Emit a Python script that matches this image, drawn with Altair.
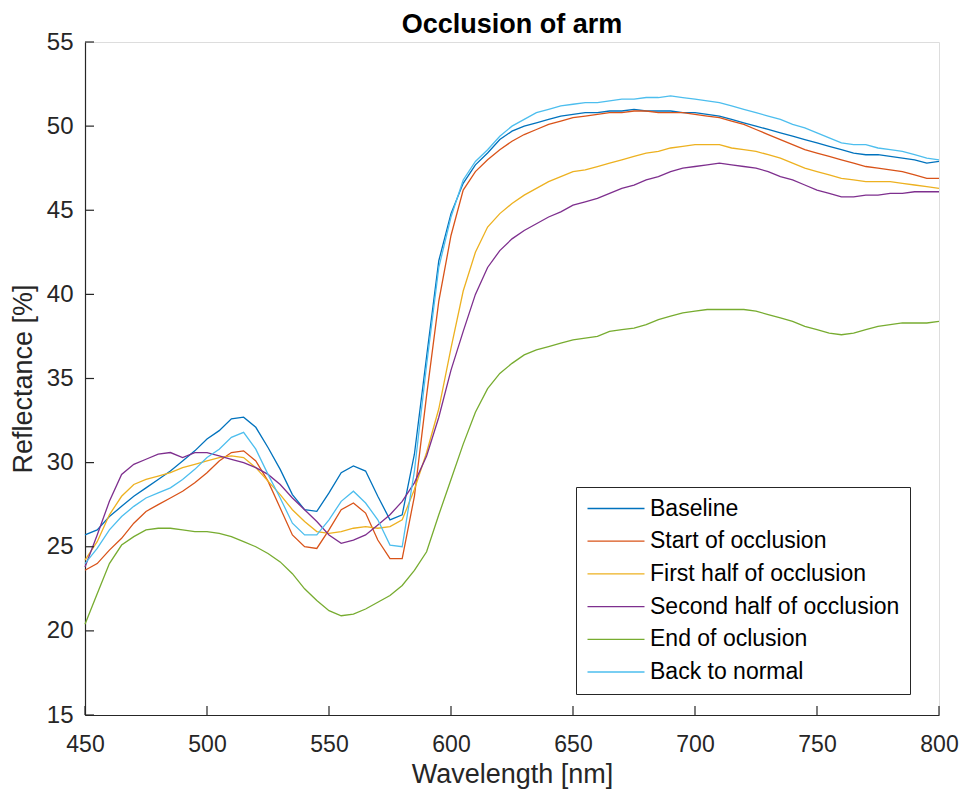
import altair as alt
import pandas as pd

wavelength = list(range(450, 801, 5))

baseline = [25.7, 26.0, 26.8, 27.4, 28.0, 28.5, 29.0, 29.5, 30.1, 30.7,
            31.4, 31.9, 32.6, 32.7, 32.1, 30.9, 29.6, 28.1, 27.2, 27.1,
            28.2, 29.4, 29.8, 29.5, 28.0, 26.6, 26.9, 30.5, 36.3, 42.0,
            44.8, 46.6, 47.7, 48.4, 49.2, 49.7, 50.0, 50.2, 50.4, 50.6,
            50.7, 50.8, 50.8, 50.9, 50.9, 51.0, 50.9, 50.9, 50.9, 50.8,
            50.8, 50.7, 50.6, 50.4, 50.2, 50.0, 49.8, 49.6, 49.4, 49.2,
            49.0, 48.8, 48.6, 48.4, 48.3, 48.3, 48.2, 48.1, 48.0, 47.8, 47.9]

start_occ = [23.6, 24.0, 24.8, 25.5, 26.4, 27.1, 27.5, 27.9, 28.3, 28.8,
             29.4, 30.1, 30.6, 30.7, 30.1, 28.9, 27.3, 25.7, 25.0, 24.9,
             26.0, 27.2, 27.6, 27.0, 25.4, 24.3, 24.3, 28.0, 34.0, 39.6,
             43.5, 46.2, 47.3, 48.0, 48.6, 49.1, 49.5, 49.8, 50.1, 50.3,
             50.5, 50.6, 50.7, 50.8, 50.8, 50.9, 50.9, 50.8, 50.8, 50.8,
             50.7, 50.6, 50.5, 50.3, 50.1, 49.8, 49.5, 49.2, 48.9, 48.6,
             48.4, 48.2, 48.0, 47.8, 47.6, 47.5, 47.4, 47.3, 47.1, 46.9, 46.9]

first_half = [24.2, 25.3, 26.9, 28.0, 28.7, 29.0, 29.2, 29.4, 29.7, 29.9,
              30.1, 30.3, 30.4, 30.3, 29.7, 28.9, 28.1, 27.2, 26.5, 25.9,
              25.8, 25.9, 26.1, 26.2, 26.1, 26.2, 26.6, 28.4, 30.6, 33.2,
              36.8, 40.2, 42.5, 44.0, 44.8, 45.4, 45.9, 46.3, 46.7, 47.0,
              47.3, 47.4, 47.6, 47.8, 48.0, 48.2, 48.4, 48.5, 48.7, 48.8,
              48.9, 48.9, 48.9, 48.7, 48.6, 48.5, 48.3, 48.1, 47.8, 47.5,
              47.3, 47.1, 46.9, 46.8, 46.7, 46.7, 46.7, 46.6, 46.5, 46.4, 46.3]

second_half = [23.8, 25.7, 27.7, 29.3, 29.9, 30.2, 30.5, 30.6, 30.3, 30.6,
               30.6, 30.4, 30.2, 30.0, 29.7, 29.3, 28.7, 27.9, 27.2, 26.5,
               25.7, 25.2, 25.4, 25.7, 26.3, 26.9, 27.7, 28.8, 30.4, 32.7,
               35.5, 37.8, 40.0, 41.6, 42.6, 43.3, 43.8, 44.2, 44.6, 44.9,
               45.3, 45.5, 45.7, 46.0, 46.3, 46.5, 46.8, 47.0, 47.3, 47.5,
               47.6, 47.7, 47.8, 47.7, 47.6, 47.5, 47.3, 47.0, 46.8, 46.5,
               46.2, 46.0, 45.8, 45.8, 45.9, 45.9, 46.0, 46.0, 46.1, 46.1, 46.1]

end_occ = [20.4, 22.2, 24.0, 25.1, 25.6, 26.0, 26.1, 26.1, 26.0, 25.9,
           25.9, 25.8, 25.6, 25.3, 25.0, 24.6, 24.1, 23.4, 22.5, 21.8,
           21.2, 20.9, 21.0, 21.3, 21.7, 22.1, 22.7, 23.6, 24.7, 26.9,
           29.0, 31.1, 33.0, 34.4, 35.3, 35.9, 36.4, 36.7, 36.9, 37.1,
           37.3, 37.4, 37.5, 37.8, 37.9, 38.0, 38.2, 38.5, 38.7, 38.9,
           39.0, 39.1, 39.1, 39.1, 39.1, 39.0, 38.8, 38.6, 38.4, 38.1,
           37.9, 37.7, 37.6, 37.7, 37.9, 38.1, 38.2, 38.3, 38.3, 38.3, 38.4]

back_normal = [24.0, 24.9, 26.0, 26.8, 27.4, 27.9, 28.2, 28.5, 29.0, 29.6,
               30.3, 30.8, 31.5, 31.8, 30.8, 29.3, 27.9, 26.4, 25.7, 25.7,
               26.6, 27.7, 28.3, 27.6, 26.6, 25.1, 25.0, 29.5, 35.8, 41.6,
               44.6, 46.8, 47.9, 48.6, 49.4, 50.0, 50.4, 50.8, 51.0, 51.2,
               51.3, 51.4, 51.4, 51.5, 51.6, 51.6, 51.7, 51.7, 51.8, 51.7,
               51.6, 51.5, 51.4, 51.2, 51.0, 50.8, 50.6, 50.4, 50.1, 49.9,
               49.6, 49.3, 49.0, 48.9, 48.9, 48.7, 48.6, 48.5, 48.3, 48.1, 48.0]

series_names = ["Baseline", "Start of occlusion", "First half of occlusion",
                "Second half of occlusion", "End of oclusion", "Back to normal"]
series_values = [baseline, start_occ, first_half, second_half, end_occ, back_normal]
colors = ["#0072BD", "#D95319", "#EDB120", "#7E2F8E", "#77AC30", "#4DBEEE"]

x_ticks = [450, 500, 550, 600, 650, 700, 750, 800]
y_ticks = [15, 20, 25, 30, 35, 40, 45, 50, 55]

rows = []
for name, vals in zip(series_names, series_values):
    for w, v in zip(wavelength, vals):
        rows.append({"Wavelength": w, "Series": name, "Reflectance": v})
df = pd.DataFrame(rows)

W, H = 854, 673
FONT = "Liberation Sans"
AX = "#262626"

xscale = alt.Scale(domain=[450, 800], nice=False, zero=False)
yscale = alt.Scale(domain=[15, 55], nice=False, zero=False)

lines = alt.Chart(df).mark_line(strokeWidth=1.3, interpolate="linear").encode(
    x=alt.X("Wavelength:Q", scale=xscale,
            axis=alt.Axis(values=x_ticks, title="Wavelength [nm]", ticks=False, tickSize=0,
                          grid=False, labelFontSize=23, titleFontSize=27,
                          labelPadding=18, titlePadding=5, domainColor=AX,
                          labelColor=AX, titleColor=AX, titleFontWeight="normal",
                          labelFont=FONT, titleFont=FONT, domainWidth=1.2,
                          labelFlush=False, labelOverlap=False)),
    y=alt.Y("Reflectance:Q", scale=yscale,
            axis=alt.Axis(values=y_ticks, title="Reflectance [%]", ticks=False, tickSize=0,
                          grid=False, labelFontSize=24, titleFontSize=27,
                          labelPadding=12, titlePadding=9, domainColor=AX,
                          labelColor=AX, titleColor=AX, titleFontWeight="normal",
                          labelFont=FONT, titleFont=FONT, domainWidth=1.2,
                          labelFlush=False, labelOverlap=False)),
    color=alt.Color("Series:N", sort=series_names,
                    scale=alt.Scale(domain=series_names, range=colors),
                    legend=alt.Legend(title=None, orient="none", legendX=491, legendY=445,
                                      symbolType="M-1,0H4.7", symbolSize=400,
                                      symbolStrokeWidth=1.3, labelFontSize=23,
                                      labelFont=FONT, labelColor="#000000", labelLimit=500,
                                      strokeColor=AX, fillColor="white", padding=10,
                                      rowPadding=8.7, labelOffset=41)),
    order=alt.Order("Wavelength:Q"),
)

xt = alt.Chart(pd.DataFrame({"t": x_ticks})).mark_rule(color=AX, strokeWidth=1.2).encode(
    x=alt.X("t:Q", scale=xscale), y=alt.value(H), y2=alt.value(H - 9))
yt = alt.Chart(pd.DataFrame({"t": y_ticks})).mark_rule(color=AX, strokeWidth=1.2).encode(
    y=alt.Y("t:Q", scale=yscale), x=alt.value(0), x2=alt.value(9))

chart = alt.layer(lines, xt, yt).properties(
    width=W, height=H,
    title=alt.TitleParams("Occlusion of arm", fontSize=27, font=FONT, fontWeight="bold",
                          color="#000000", anchor="middle", offset=-9),
    autosize=alt.AutoSizeParams(type="none"),
    padding={"left": 77, "top": 34, "right": 20, "bottom": 75},
).configure_view(stroke=None).configure(background="white")

chart.save("out.html", embed_options={"renderer": "svg", "actions": False})
